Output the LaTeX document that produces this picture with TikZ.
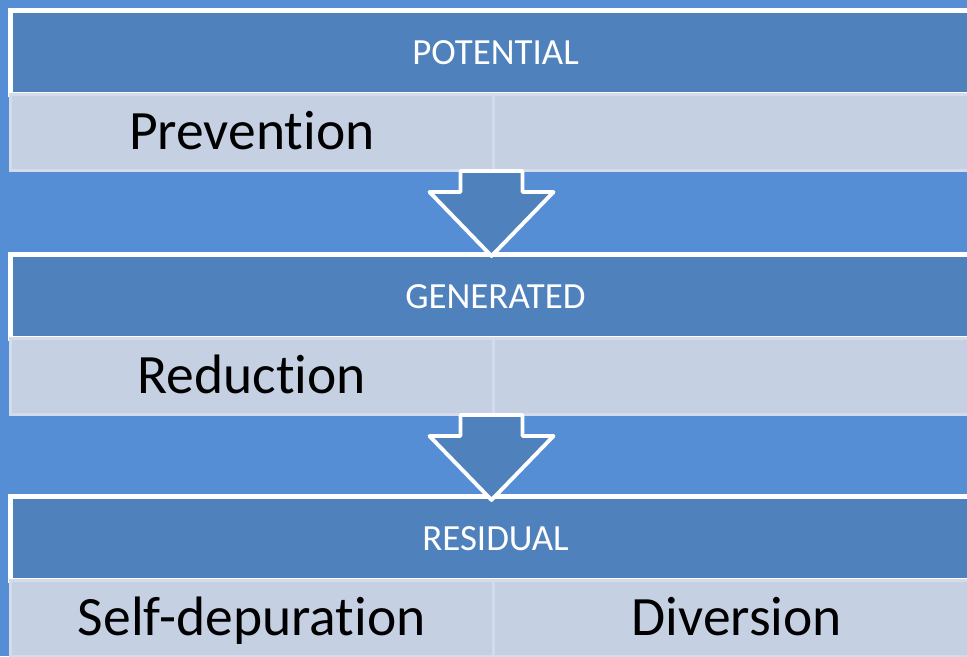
\documentclass[tikz,border=0pt]{standalone}
\usepackage{fontspec}
\setmainfont[Ligatures=NoCommon]{Carlito}
\usetikzlibrary{calc}

\definecolor{bgblue}{RGB}{85,142,213}
\definecolor{hdblue}{RGB}{79,129,189}
\definecolor{cellblue}{RGB}{197,208,227}
\definecolor{celledge}{RGB}{212,220,236}

\tikzset{
  hdrow/.style={draw=white, line width=2.8pt, fill=hdblue, text=white,
    minimum width=19.4cm, minimum height=1.68cm, inner sep=0pt, outer sep=0pt,
    anchor=north, font=\fontsize{21}{24}\selectfont},
  cellbox/.style={draw=celledge, line width=1.7pt, fill=cellblue, text=black,
    minimum height=1.52cm, inner sep=0pt, outer sep=0pt, anchor=north west,
    text height=0.82cm, text depth=0.14cm,
    font=\fontsize{31.6}{36}\selectfont},
  blockarrow/.style={draw=white, line width=2.2pt, fill=hdblue, line join=round}
}

\begin{document}
\begin{tikzpicture}
  \useasboundingbox[fill=bgblue] (0,0) rectangle (19.34,-13.12);
  \begin{scope}
    \clip (0,0) rectangle (19.34,-13.12);

    % potential
    \node[hdrow] (pot) at (9.91,-0.21) {POTENTIAL};
    \node[cellbox, minimum width=9.65cm] (potl) at (pot.south west) {Prevention};
    \node[cellbox, minimum width=9.75cm] (potr) at (potl.north east) {};

    % generated
    \node[hdrow] (gen) at (9.91,-5.09) {GENERATED};
    \node[cellbox, minimum width=9.65cm] (genl) at (gen.south west) {Reduction};
    \node[cellbox, minimum width=9.75cm] (genr) at (genl.north east) {};

    % residual
    \node[hdrow] (res) at (9.91,-9.93) {RESIDUAL};
    \node[cellbox, minimum width=9.65cm] (resl) at (res.south west) {Self-depuration};
    \node[cellbox, minimum width=9.75cm] (resr) at (resl.north east) {Diversion};

    % arrows
    \coordinate (tipa) at ($(gen.north)+(-0.08,-0.03)$);
    \coordinate (tipb) at ($(res.north)+(-0.08,-0.07)$);
    \draw[blockarrow] (tipa) -- ++(-1.24,1.28) -- ++(0.62,0) -- ++(0,0.42)
      -- ++(1.24,0) -- ++(0,-0.42) -- ++(0.62,0) -- cycle;
    \draw[blockarrow] (tipb) -- ++(-1.24,1.28) -- ++(0.62,0) -- ++(0,0.42)
      -- ++(1.24,0) -- ++(0,-0.42) -- ++(0.62,0) -- cycle;
  \end{scope}
\end{tikzpicture}
\end{document}
